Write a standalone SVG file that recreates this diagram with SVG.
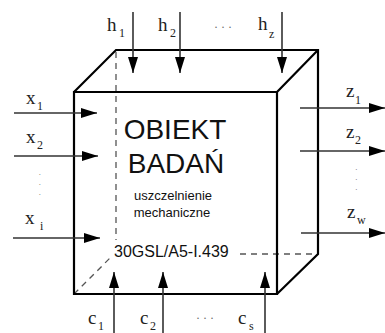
<svg xmlns="http://www.w3.org/2000/svg" width="385" height="333" viewBox="0 0 385 333">
<defs>
<marker id="ah" markerWidth="16" markerHeight="10" refX="16" refY="5" orient="auto" markerUnits="userSpaceOnUse">
<path d="M0,0 L16,5 L0,10 Z" fill="#000"/>
</marker>
<style>
.box{stroke:#000;stroke-width:2.2;fill:none;stroke-linejoin:miter}
.dash{stroke:#555;stroke-width:1.3;fill:none;stroke-dasharray:6,5}
.arr{stroke:#333;stroke-width:1.6;fill:none;marker-end:url(#ah)}
.lbl{font-family:"Liberation Serif",serif;font-size:19px;fill:#222}
.sub{font-family:"Liberation Serif",serif;font-size:12px;fill:#222}
.dots{font-family:"Liberation Serif",serif;font-size:12px;fill:#666}
.vdot{font-family:"Liberation Serif",serif;font-size:8px;fill:#666}
.sans{font-family:"Liberation Sans",Arial,sans-serif;fill:#111}
</style>
</defs>
<rect width="385" height="333" fill="#fff"/>
<g id="box">
<path class="dash" d="M116,52 V240 M74,294 L111,257 M240,254 H318"/>
<path class="box" d="M74,294 V92 H277 V294 Z M74,92 L116,50 H318 V254 L277,294 M277,92 L318,50"/>
</g>
<g id="connectors">
<line class="arr" x1="133" y1="12" x2="133" y2="73"/>
<line class="arr" x1="180" y1="12" x2="180" y2="73"/>
<line class="arr" x1="282" y1="12" x2="282" y2="73"/>
<line class="arr" x1="14" y1="113" x2="97" y2="113"/>
<line class="arr" x1="14" y1="156" x2="98" y2="156"/>
<line class="arr" x1="13" y1="238" x2="100" y2="238"/>
<line class="arr" x1="300" y1="108" x2="385" y2="108"/>
<line class="arr" x1="300" y1="151" x2="385" y2="151"/>
<line class="arr" x1="301" y1="233" x2="385" y2="233"/>
<line class="arr" x1="114" y1="333" x2="114" y2="272"/>
<line class="arr" x1="163" y1="333" x2="163" y2="272"/>
<line class="arr" x1="265" y1="333" x2="265" y2="272"/>
</g>
<g id="labels">
<text class="lbl" x="107" y="31">h</text><text class="sub" x="119" y="37">1</text>
<text class="lbl" x="158" y="31">h</text><text class="sub" x="170" y="37">2</text>
<text class="dots" x="214" y="31">·  ·  ·</text>
<text class="lbl" x="258" y="30">h</text><text class="sub" x="269" y="38">z</text>
<text class="lbl" x="26" y="104">x</text><text class="sub" x="37" y="110">1</text>
<text class="lbl" x="26" y="143">x</text><text class="sub" x="37" y="149">2</text>
<text class="vdot" x="38.5" y="177">·</text><text class="vdot" x="38.5" y="187">·</text><text class="vdot" x="38.5" y="197">·</text>
<text class="lbl" x="25" y="224">x</text><text class="sub" x="40" y="230">i</text>
<text class="lbl" x="346" y="97">z</text><text class="sub" x="355" y="104">1</text>
<text class="lbl" x="346" y="138">z</text><text class="sub" x="355" y="144">2</text>
<text class="vdot" x="355" y="172">·</text><text class="vdot" x="355" y="182">·</text><text class="vdot" x="355" y="192">·</text>
<text class="lbl" x="347" y="218">z</text><text class="sub" x="357" y="224">w</text>
<text class="lbl" x="88" y="324">c</text><text class="sub" x="98" y="330">1</text>
<text class="lbl" x="140" y="324">c</text><text class="sub" x="150" y="330">2</text>
<text class="dots" x="196" y="322">·  ·  ·</text>
<text class="lbl" x="238" y="324">c</text><text class="sub" x="249" y="330">s</text>
</g>
<g id="center">
<text class="sans" x="175" y="139" font-size="28" text-anchor="middle">OBIEKT</text>
<text class="sans" x="176" y="173" font-size="28" text-anchor="middle">BADAŃ</text>
<text class="sans" x="173" y="200" font-size="13" text-anchor="middle" fill="#222">uszczelnienie</text>
<text class="sans" x="172" y="217" font-size="13" text-anchor="middle" fill="#222">mechaniczne</text>
<text class="sans" x="114" y="257" font-size="16">30GSL/A5-I.439</text>
</g>
</svg>
